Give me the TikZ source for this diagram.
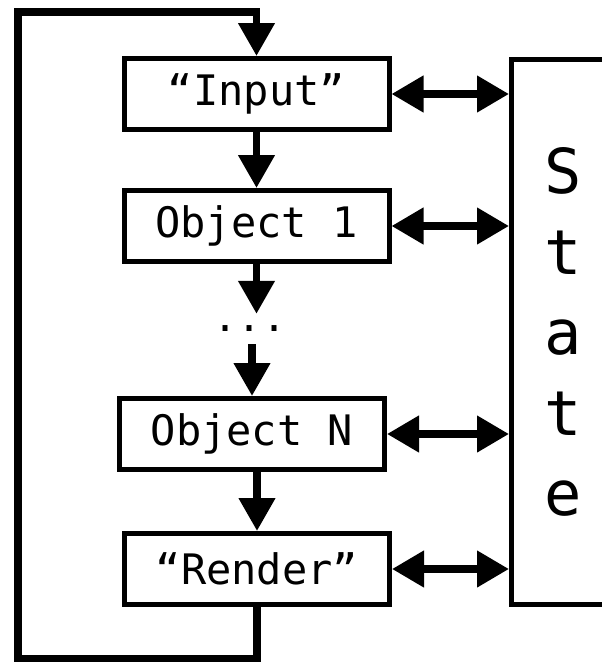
\documentclass[tikz,border=0pt]{standalone}
\usepackage{fontspec}
\setmonofont{DejaVu Sans Mono}
\usetikzlibrary{arrows.meta}
\tikzset{
  box/.style={draw, line width=5pt, minimum width=265pt, minimum height=71pt, inner sep=0pt,
    font=\ttfamily\fontsize{42}{50}\selectfont},
  conn/.style={line width=7.5pt, miter limit=10, -{Triangle[length=33pt,width=35pt]}},
  dbl/.style={line width=7.5pt, {Triangle[length=32pt,width=35pt]}-{Triangle[length=32pt,width=35pt]}},
}
\begin{document}
\begin{tikzpicture}[x=1pt,y=-1pt]
\useasboundingbox (0,0) rectangle (602,662);
\node[box] (input) at (256.5,94) {“Input”};
\node[box] (obj1) at (256.5,226) {Object 1};
\node[inner sep=0pt, minimum width=50pt, minimum height=30pt, font=\ttfamily\fontsize{40}{48}\selectfont] (dots) at (250,329) {...};
\node[box] (objN) at (252,434) {Object N};
\node[box] (render) at (257,569) {“Render”};
\node[draw, line width=5pt, minimum width=103pt, minimum height=545pt, inner sep=0pt, align=center,
  font=\ttfamily\fontsize{62}{80.5}\selectfont] (state) at (563,332) {S\\t\\a\\t\\e};
\coordinate (lb) at (18,659);
\coordinate (lt) at (18,12);
\draw[conn] (input.south) -- (input.south |- obj1.north);
\draw[conn] (obj1.south) -- (obj1.south |- dots.north);
\draw[conn] (dots.south -| objN.north) -- (objN.north);
\draw[conn] (objN.south -| render.north) -- (render.north);
\draw[conn] (render.south) |- (lb) -- (lt) -| (input.north);
\draw[dbl] (input.east) -- (input.east -| state.west);
\draw[dbl] (obj1.east) -- (obj1.east -| state.west);
\draw[dbl] (objN.east) -- (objN.east -| state.west);
\draw[dbl] (render.east) -- (render.east -| state.west);
\end{tikzpicture}
\end{document}
